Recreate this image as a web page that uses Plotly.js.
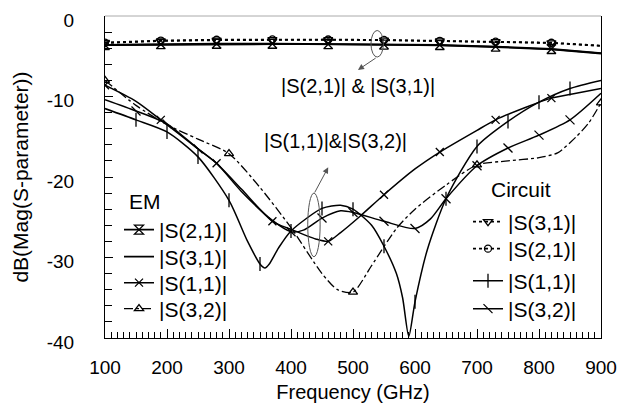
<!DOCTYPE html>
<html>
<head>
<meta charset="utf-8">
<script src="https://cdn.plot.ly/plotly-3.0.1.min.js"></script>
<style>html,body{margin:0;padding:0;background:#fff;}#chart{width:629px;height:408px;}</style>
</head>
<body>
<div id="chart"></div>
<script>
// ---- data ----
const upperFreq = [100, 190, 280, 370, 460, 550, 640, 730, 820, 900];
const emS21 = [-3.6, -3.5, -3.45, -3.45, -3.5, -3.55, -3.6, -3.8, -4.1, -4.6];
const emS31 = [-3.6, -3.55, -3.5, -3.5, -3.5, -3.55, -3.65, -3.85, -4.15, -4.66];
const ciS31 = [-3.35, -3.1, -3.0, -2.93, -2.95, -3.0, -3.1, -3.2, -3.35, -3.72];
const ciS21 = [-3.3, -3.05, -2.95, -2.9, -2.92, -2.98, -3.08, -3.18, -3.32, -3.68];

// EM |S(1,1)| : single dip near 460 GHz
const emS11Freq = [100,150,190,250,280,320,370,400,440,460,480,511,550,600,640,700,730,780,820,860,900];
const emS11 = [-8.6,-10.6,-12.9,-16.5,-18.3,-21.5,-25.5,-26.5,-27.7,-28.0,-26.9,-24.9,-22.2,-19.0,-16.9,-14.2,-12.9,-11.3,-10.2,-9.6,-9.0];

// EM |S(3,2)| : dash-dot, dip near 500 GHz
const emS32Freq = [100,150,200,250,300,350,400,450,475,500,530,570,600,650,700,750,800,830,860,880,900];
const emS32 = [-8.0,-11.1,-13.5,-15.3,-17.1,-21.3,-26.3,-32.0,-34.0,-34.3,-31.0,-26.4,-24.0,-21.0,-18.5,-18.0,-17.6,-17.0,-15.0,-13.3,-10.8];

// Circuit |S(1,1)| : dips near 358 and 590 GHz
const ciS11Freq = [100,150,200,250,300,330,350,358,365,380,400,450,480,500,530,550,570,580,590,600,620,650,700,750,800,850,900];
const ciS11 = [-11.5,-12.9,-14.4,-17.5,-22.9,-28.0,-30.8,-31.3,-30.8,-28.8,-26.7,-23.9,-23.5,-24.0,-26.0,-28.6,-32.0,-35.0,-39.8,-35.5,-29.0,-22.7,-16.2,-13.1,-10.7,-9.0,-8.0];

// Circuit |S(3,2)| : dips near 400 and 600 GHz
const ciS32Freq = [100,150,200,250,280,320,370,400,420,450,480,500,550,600,625,650,700,750,800,850,900];
const ciS32 = [-10.4,-11.8,-13.4,-16.5,-18.3,-21.8,-25.4,-26.8,-26.6,-25.1,-24.2,-24.4,-25.5,-26.4,-25.2,-22.7,-18.6,-16.4,-14.8,-12.9,-9.6];

const xTicks = [100, 200, 300, 400, 500, 600, 700, 800, 900];
const yTicks = [0, -10, -20, -30, -40];

// marker positions are picked from the data points
function pick(xs, ys, test) {
  const px = [], py = [];
  xs.forEach((v, i) => { if (test(v)) { px.push(v); py.push(ys[i]); } });
  return {x: px, y: py};
}
const every90 = v => (v - 100) % 90 === 0 && v <= 820;
const every50 = v => v % 50 === 0 && v > 100 && v < 900;
const every200 = v => (v - 100) % 200 === 0;

// legend entry centres (paper px) -> paper fractions
const PLOT_T = 16, PLOT_H = 322, PLOT_L = 105, PLOT_W = 496;
const py2paper = p => 1 - (p - PLOT_T) / PLOT_H;
const px2paper = p => (p - PLOT_L) / PLOT_W;

const FONT = 'Arial, "Liberation Sans", sans-serif';
const traces = [];
const legends = {};
let legIdx = 0;
function series(xs, ys, dash, width, symbol, size, markTest, name, legX, legY) {
  const smooth = xs.length > 12;
  traces.push({x: xs, y: ys, type: 'scatter', mode: 'lines', showlegend: false,
    line: {color: '#000', width: width, dash: dash, shape: smooth ? 'spline' : 'linear', smoothing: smooth ? 0.7 : 1}});
  legIdx += 1;
  const key = legIdx === 1 ? 'legend' : 'legend' + legIdx;
  legends[key] = {x: px2paper(legX), xanchor: 'left', y: py2paper(legY), yanchor: 'middle',
    bgcolor: 'rgba(0,0,0,0)', font: {size: 21}};
  const leg = {x: [null], y: [null], type: 'scatter', mode: 'lines', name: name, legend: key,
    line: {color: '#000', width: width, dash: dash}};
  if (symbol) {
    const mk = {symbol: symbol, size: size, color: '#000', line: {color: '#000', width: 1.3}};
    const m = pick(xs, ys, markTest);
    traces.push({x: m.x, y: m.y, type: 'scatter', mode: 'markers', showlegend: false, marker: mk});
    leg.mode = 'lines+markers';
    leg.marker = mk;
  }
  traces.push(leg);
}
// EM
series(upperFreq, emS21, 'solid', 1.8, 'hourglass-open', 9, every90, '|S(2,1)|', 119, 230);
series(upperFreq, emS31, 'solid', 1.8, null, 0, null, '|S(3,1)|', 119, 257);
series(emS11Freq, emS11, 'solid', 1.5, 'x-thin-open', 8, every90, '|S(1,1)|', 119, 283);
series(emS32Freq, emS32, 'dashdot', 1.3, 'triangle-up-open', 8, every200, '|S(3,2)|', 119, 309);
// Circuit
series(upperFreq, ciS31, 'dot', 1.8, 'triangle-down-open', 8, every90, '|S(3,1)|', 468, 222);
series(upperFreq, ciS21, 'dot', 1.8, 'circle-open', 7, every90, '|S(2,1)|', 468, 249);
series(ciS11Freq, ciS11, 'solid', 1.5, 'line-ns-open', 10, every50, '|S(1,1)|', 468, 281);
series(ciS32Freq, ciS32, 'solid', 1.5, 'line-nw-open', 9, every50, '|S(3,2)|', 468, 309);

const layout = Object.assign({
  width: 629, height: 408,
  margin: {l: PLOT_L, r: 629 - PLOT_L - PLOT_W, t: PLOT_T, b: 408 - PLOT_T - PLOT_H},
  paper_bgcolor: '#fff', plot_bgcolor: '#fff',
  font: {family: FONT, color: '#000', size: 19},
  xaxis: {range: [100, 900], tickvals: xTicks, ticktext: xTicks.map(String),
    ticks: 'inside', ticklen: 9, tickcolor: '#000', tickwidth: 1,
    minor: {dtick: 10, ticks: 'inside', ticklen: 6, tickcolor: '#000', tickwidth: 1},
    showline: true, linecolor: '#000', linewidth: 1, mirror: false,
    showgrid: false, zeroline: false, ticklabelstandoff: 12,
    tickfont: {size: 19},
    title: {text: 'Frequency (GHz)', font: {size: 20}, standoff: 8}},
  yaxis: {range: [-40, 0], tickvals: yTicks, ticktext: yTicks.map(String),
    ticks: 'inside', ticklen: 8, tickcolor: '#000',
    minor: {dtick: 2, ticks: 'inside', ticklen: 7, tickcolor: '#000'},
    showline: true, linecolor: '#000', linewidth: 1, mirror: true,
    showgrid: false, zeroline: false, ticklabelstandoff: 26, ticklabelshift: 4,
    tickfont: {size: 19},
    title: {text: 'dB(Mag(S-parameter))', font: {size: 21}, standoff: 12}},
  shapes: [
    {type: 'line', xref: 'paper', yref: 'paper', x0: 0, x1: 1, y0: 1, y1: 1, line: {color: '#aaa', width: 1}},
    {type: 'circle', xref: 'x', yref: 'y', x0: 529, x1: 549, y0: -1.8, y1: -5.1, line: {color: '#555', width: 1}},
    {type: 'circle', xref: 'x', yref: 'y', x0: 427, x1: 447, y0: -22.0, y1: -29.9, line: {color: '#555', width: 1}}
  ],
  annotations: [
    {x: 508, y: -8.7, xref: 'x', yref: 'y', text: '|S(2,1)| &amp; |S(3,1)|', showarrow: false, font: {size: 20}},
    {x: 471, y: -15.5, xref: 'x', yref: 'y', text: '|S(1,1)|&amp;|S(3,2)|', showarrow: false, font: {size: 20}},
    {x: 165, y: -23.0, xref: 'x', yref: 'y', text: 'EM', showarrow: false, font: {size: 21}},
    {x: 771, y: -21.6, xref: 'x', yref: 'y', text: 'Circuit', showarrow: false, font: {size: 21}},
    {x: 508, y: -6.7, ax: 539, ay: -5.1, xref: 'x', yref: 'y', axref: 'x', ayref: 'y', text: '', showarrow: true,
      arrowhead: 2, arrowsize: 1.2, arrowwidth: 1, arrowcolor: '#555'},
    {x: 460, y: -18.8, ax: 437, ay: -22.1, xref: 'x', yref: 'y', axref: 'x', ayref: 'y', text: '', showarrow: true,
      arrowhead: 2, arrowsize: 1.2, arrowwidth: 1, arrowcolor: '#555'}
  ]
}, legends);
Plotly.newPlot('chart', traces, layout, {staticPlot: true, displayModeBar: false});
</script>
</body>
</html>
